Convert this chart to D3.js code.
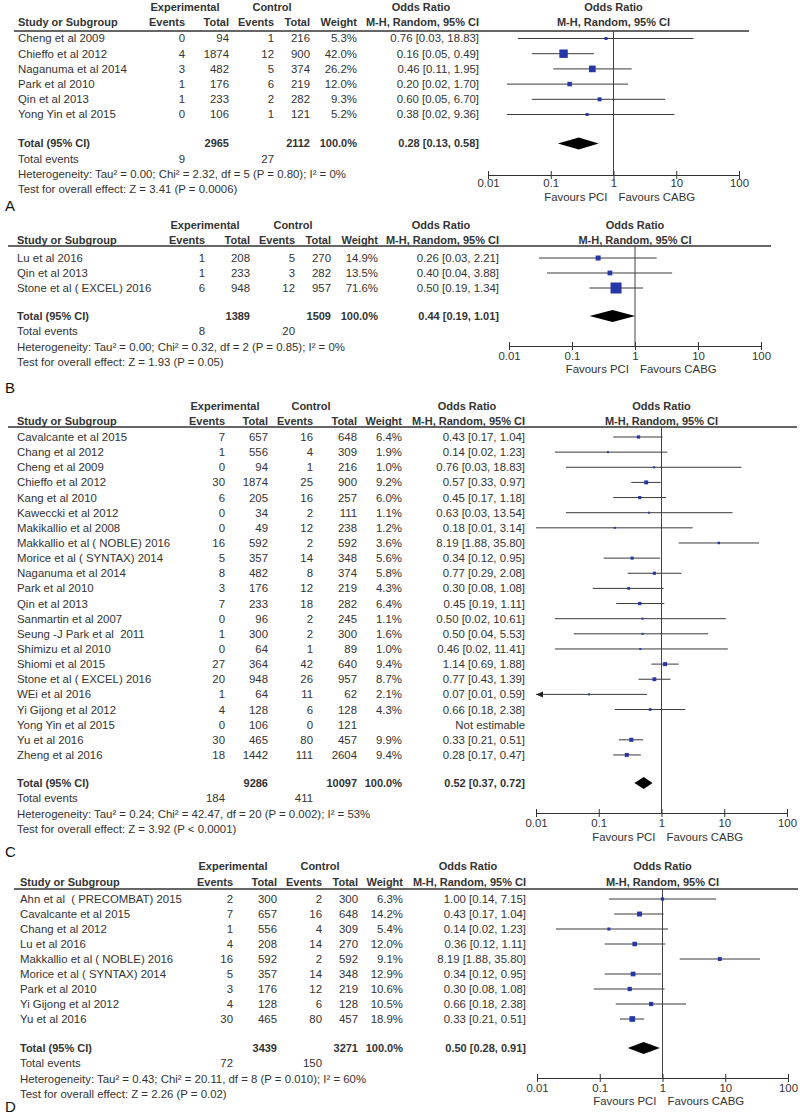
<!DOCTYPE html>
<html>
<head>
<meta charset="utf-8">
<script src="https://cdn.jsdelivr.net/npm/d3@7"></script>
<style>
   body { margin: 0; background: #fff; }
   svg text { font-family: "Liberation Sans", Arial, sans-serif; font-size: 11.4px; fill: #333; }
</style>
</head>
<body>
<div id="chart"></div>
<script>
// study rows: name, exp events, exp total, ctl events, ctl total, weight %, OR, lower, upper
const rowsA = [
   ['Cheng et al 2009', 0, 94, 1, 216, 5.3, 0.76, 0.03, 18.83],
   ['Chieffo et al 2012', 4, 1874, 12, 900, 42.0, 0.16, 0.05, 0.49],
   ['Naganuma et al 2014', 3, 482, 5, 374, 26.2, 0.46, 0.11, 1.95],
   ['Park et al 2010', 1, 176, 6, 219, 12.0, 0.20, 0.02, 1.70],
   ['Qin et al 2013', 1, 233, 2, 282, 9.3, 0.60, 0.05, 6.70],
   ['Yong Yin et al 2015', 0, 106, 1, 121, 5.2, 0.38, 0.02, 9.36]
];
const rowsB = [
   ['Lu et al 2016', 1, 208, 5, 270, 14.9, 0.26, 0.03, 2.21],
   ['Qin et al 2013', 1, 233, 3, 282, 13.5, 0.40, 0.04, 3.88],
   ['Stone et al ( EXCEL) 2016', 6, 948, 12, 957, 71.6, 0.50, 0.19, 1.34]
];
const rowsC = [
   ['Cavalcante et al 2015', 7, 657, 16, 648, 6.4, 0.43, 0.17, 1.04],
   ['Chang et al 2012', 1, 556, 4, 309, 1.9, 0.14, 0.02, 1.23],
   ['Cheng et al 2009', 0, 94, 1, 216, 1.0, 0.76, 0.03, 18.83],
   ['Chieffo et al 2012', 30, 1874, 25, 900, 9.2, 0.57, 0.33, 0.97],
   ['Kang et al 2010', 6, 205, 16, 257, 6.0, 0.45, 0.17, 1.18],
   ['Kaweccki et al 2012', 0, 34, 2, 111, 1.1, 0.63, 0.03, 13.54],
   ['Makikallio et al 2008', 0, 49, 12, 238, 1.2, 0.18, 0.01, 3.14],
   ['Makkallio et al ( NOBLE) 2016', 16, 592, 2, 592, 3.6, 8.19, 1.88, 35.80],
   ['Morice et al ( SYNTAX) 2014', 5, 357, 14, 348, 5.6, 0.34, 0.12, 0.95],
   ['Naganuma et al 2014', 8, 482, 8, 374, 5.8, 0.77, 0.29, 2.08],
   ['Park et al 2010', 3, 176, 12, 219, 4.3, 0.30, 0.08, 1.08],
   ['Qin et al 2013', 7, 233, 18, 282, 6.4, 0.45, 0.19, 1.11],
   ['Sanmartin et al 2007', 0, 96, 2, 245, 1.1, 0.50, 0.02, 10.61],
   ['Seung -J Park et al  2011', 1, 300, 2, 300, 1.6, 0.50, 0.04, 5.53],
   ['Shimizu et al 2010', 0, 64, 1, 89, 1.0, 0.46, 0.02, 11.41],
   ['Shiomi et al 2015', 27, 364, 42, 640, 9.4, 1.14, 0.69, 1.88],
   ['Stone et al ( EXCEL) 2016', 20, 948, 26, 957, 8.7, 0.77, 0.43, 1.39],
   ['WEi et al 2016', 1, 64, 11, 62, 2.1, 0.07, 0.01, 0.59],
   ['Yi Gijong et al 2012', 4, 128, 6, 128, 4.3, 0.66, 0.18, 2.38],
   ['Yong Yin et al 2015', 0, 106, 0, 121, null, null, null, null],
   ['Yu et al 2016', 30, 465, 80, 457, 9.9, 0.33, 0.21, 0.51],
   ['Zheng et al 2016', 18, 1442, 111, 2604, 9.4, 0.28, 0.17, 0.47]
];
const rowsD = [
   ['Ahn et al  ( PRECOMBAT) 2015', 2, 300, 2, 300, 6.3, 1.00, 0.14, 7.15],
   ['Cavalcante et al 2015', 7, 657, 16, 648, 14.2, 0.43, 0.17, 1.04],
   ['Chang et al 2012', 1, 556, 4, 309, 5.4, 0.14, 0.02, 1.23],
   ['Lu et al 2016', 4, 208, 14, 270, 12.0, 0.36, 0.12, 1.11],
   ['Makkallio et al ( NOBLE) 2016', 16, 592, 2, 592, 9.1, 8.19, 1.88, 35.80],
   ['Morice et al ( SYNTAX) 2014', 5, 357, 14, 348, 12.9, 0.34, 0.12, 0.95],
   ['Park et al 2010', 3, 176, 12, 219, 10.6, 0.30, 0.08, 1.08],
   ['Yi Gijong et al 2012', 4, 128, 6, 128, 10.5, 0.66, 0.18, 2.38],
   ['Yu et al 2016', 30, 465, 80, 457, 18.9, 0.33, 0.21, 0.51]
];

// studies whose interval runs off the left end of the axis (drawn with an arrow)
const offScaleC = ['WEi et al 2016'];

// totals: exp total, ctl total, pooled OR, lower, upper, exp events, ctl events
const totalsA = [2965, 2112, 0.28, 0.13, 0.58, 9, 27];
const totalsB = [1389, 1509, 0.44, 0.19, 1.01, 8, 20];
const totalsC = [9286, 10097, 0.52, 0.37, 0.72, 184, 411];
const totalsD = [3439, 3271, 0.50, 0.28, 0.91, 72, 150];

const statsA = ['Heterogeneity: Tau² = 0.00; Chi² = 2.32, df = 5 (P = 0.80); I² = 0%', 'Test for overall effect: Z = 3.41 (P = 0.0006)'];
const statsB = ['Heterogeneity: Tau² = 0.00; Chi² = 0.32, df = 2 (P = 0.85); I² = 0%', 'Test for overall effect: Z = 1.93 (P = 0.05)'];
const statsC = ['Heterogeneity: Tau² = 0.24; Chi² = 42.47, df = 20 (P = 0.002); I² = 53%', 'Test for overall effect: Z = 3.92 (P < 0.0001)'];
const statsD = ['Heterogeneity: Tau² = 0.43; Chi² = 20.11, df = 8 (P = 0.010); I² = 60%', 'Test for overall effect: Z = 2.26 (P = 0.02)'];

const axisTicks = [0.01, 0.1, 1, 10, 100];

const WIDTH = 800;
const HEIGHT = 1117;
const BLUE = '#2536a6';

const svg = d3.select('#chart')
   .append('svg')
   .attr('width', WIDTH)
   .attr('height', HEIGHT);

function txt(g, x, y, s, anchor, bold) {
   return g.append('text')
      .attr('x', x)
      .attr('y', y)
      .attr('dy', '0.35em')
      .attr('text-anchor', anchor || 'start')
      .attr('xml:space', 'preserve')
      .style('white-space', 'pre')
      .style('font-weight', bold ? 'bold' : 'normal')
      .style('font-size', bold ? '11px' : null)
      .text(s);
}

function drawPanel(letter, rows, totals, stats, offScale, L) {
   const g = svg.append('g');
   const c = L.cols; // right edges: expEv, expTot, ctlEv, ctlTot, weight, OR text

   const x = d3.scaleLog().domain([0.01, 100]).range([L.x0, L.x1]);
   const y = d3.scaleLinear().domain([0, 1]).range([L.row0, L.row0 + L.step]);
   const yLast = y(rows.length - 1);
   const yTotal = yLast + L.gap;

   // headers
   txt(g, c[0], L.h1, 'Experimental', 'middle', true);
   txt(g, c[2] - 2, L.h1, 'Control', 'middle', true);
   txt(g, c[5] - 58, L.h1, 'Odds Ratio', 'middle', true);
   txt(g, x(1), L.h1, 'Odds Ratio', 'middle', true);
   txt(g, L.sx, L.h2, 'Study or Subgroup', 'start', true);
   txt(g, c[0], L.h2, 'Events', 'end', true);
   txt(g, c[1], L.h2, 'Total', 'end', true);
   txt(g, c[2], L.h2, 'Events', 'end', true);
   txt(g, c[3], L.h2, 'Total', 'end', true);
   txt(g, c[4], L.h2, 'Weight', 'end', true);
   txt(g, c[5], L.h2, 'M-H, Random, 95% CI', 'end', true);
   txt(g, x(1), L.h2, 'M-H, Random, 95% CI', 'middle', true);

   g.append('line')
      .attr('x1', L.lx).attr('x2', x(100) + 10)
      .attr('y1', L.line).attr('y2', L.line)
      .attr('stroke', '#333').attr('stroke-width', 1.5);

   // line of no effect
   g.append('line')
      .attr('x1', x(1)).attr('x2', x(1))
      .attr('y1', L.line).attr('y2', L.axis)
      .attr('stroke', '#444').attr('stroke-width', 1);

   const f2 = d3.format('.2f');
   const f1 = d3.format('.1f');

   rows.forEach((r, i) => {
      const yy = y(i);
      txt(g, L.sx, yy, r[0]);
      txt(g, c[0], yy, r[1], 'end');
      txt(g, c[1], yy, r[2], 'end');
      txt(g, c[2], yy, r[3], 'end');
      txt(g, c[3], yy, r[4], 'end');
      if (r[6] === null) {
         txt(g, c[5], yy, 'Not estimable', 'end');
         return;
      }
      txt(g, c[4], yy, f1(r[5]) + '%', 'end');
      txt(g, c[5], yy, `${f2(r[6])} [${f2(r[7])}, ${f2(r[8])}]`, 'end');

      g.append('line')
         .attr('x1', x(Math.max(r[7], 0.01))).attr('x2', x(Math.min(r[8], 100)))
         .attr('y1', yy).attr('y2', yy)
         .attr('stroke', '#3a3a3a').attr('stroke-width', 1);
      if (offScale.includes(r[0])) {
         const ax = x(0.01);
         g.append('path')
            .attr('d', `M${ax},${yy}L${ax + 7},${yy - 3}L${ax + 7},${yy + 3}Z`)
            .attr('fill', '#222');
      }
      const s = Math.max(2, 1.3 * Math.sqrt(r[5]));
      g.append('rect')
         .attr('x', x(r[6]) - s / 2).attr('y', yy - s / 2)
         .attr('width', s).attr('height', s)
         .attr('fill', BLUE);
   });

   // totals
   txt(g, L.sx, yTotal, 'Total (95% CI)', 'start', true);
   txt(g, c[1], yTotal, totals[0], 'end', true);
   txt(g, c[3], yTotal, totals[1], 'end', true);
   txt(g, c[4], yTotal, '100.0%', 'end', true);
   txt(g, c[5], yTotal, `${f2(totals[2])} [${f2(totals[3])}, ${f2(totals[4])}]`, 'end', true);
   g.append('path')
      .attr('d', `M${x(totals[3])},${yTotal}L${x(totals[2])},${yTotal - 6}L${x(totals[4])},${yTotal}L${x(totals[2])},${yTotal + 6}Z`)
      .attr('fill', '#000');

   txt(g, L.sx, yTotal + 15.5, 'Total events');
   txt(g, c[0], yTotal + 15.5, totals[5], 'end');
   txt(g, c[2], yTotal + 15.5, totals[6], 'end');
   txt(g, L.sx, yTotal + 31, stats[0]);
   txt(g, L.sx, yTotal + 46, stats[1]);

   // axis
   const axisG = g.append('g')
      .attr('transform', `translate(0,${L.axis})`)
      .call(d3.axisBottom(x)
         .tickValues(axisTicks)
         .tickFormat(d => String(d))
         .tickSizeInner(4)
         .tickSizeOuter(0)
         .tickPadding(L.pad));
   axisG.select('.domain').attr('stroke', '#333');
   axisG.selectAll('.tick line').attr('y1', -4).attr('stroke', '#333');
   axisG.selectAll('.tick text')
      .attr('font-size', null)
      .style('font-size', '11.4px');
   axisG.attr('font-size', null).attr('font-family', null);

   txt(g, x(1) - 6, L.fav, 'Favours PCI', 'end');
   txt(g, x(1) + 5, L.fav, 'Favours CABG', 'start');

   g.append('text')
      .attr('x', 5).attr('y', L.label).attr('dy', '0.35em')
      .style('font-size', '15px')
      .style('fill', '#111')
      .text(letter);
}

drawPanel('A', rowsA, totalsA, statsA, [], {
   h1: 7, h2: 22, line: 31, row0: 38.5, step: 15.2, gap: 29,
   sx: 18, lx: 14, cols: [185, 229, 274, 310, 357, 479],
   x0: 488, x1: 739, axis: 175, pad: 0, fav: 197, label: 206
});
drawPanel('B', rowsB, totalsB, statsB, [], {
   h1: 225, h2: 240, line: 246, row0: 258, step: 15, gap: 28,
   sx: 17, lx: 8, cols: [205, 250, 295, 331, 378, 499],
   x0: 509, x1: 761, axis: 346, pad: 2, fav: 369.5, label: 388
});
drawPanel('C', rowsC, totalsC, statsC, offScaleC, {
   h1: 406, h2: 421, line: 427, row0: 437, step: 15.14, gap: 28,
   sx: 17, lx: 8, cols: [225, 268, 313, 357, 402, 525],
   x0: 536, x1: 787, axis: 813, pad: 2, fav: 837, label: 852
});
drawPanel('D', rowsD, totalsD, statsD, [], {
   h1: 866, h2: 882, line: 889, row0: 899, step: 15, gap: 29,
   sx: 20, lx: 14, cols: [233, 277, 322, 358, 403, 526],
   x0: 537, x1: 788, axis: 1078, pad: 2, fav: 1101, label: 1107
});
</script>
</body>
</html>
